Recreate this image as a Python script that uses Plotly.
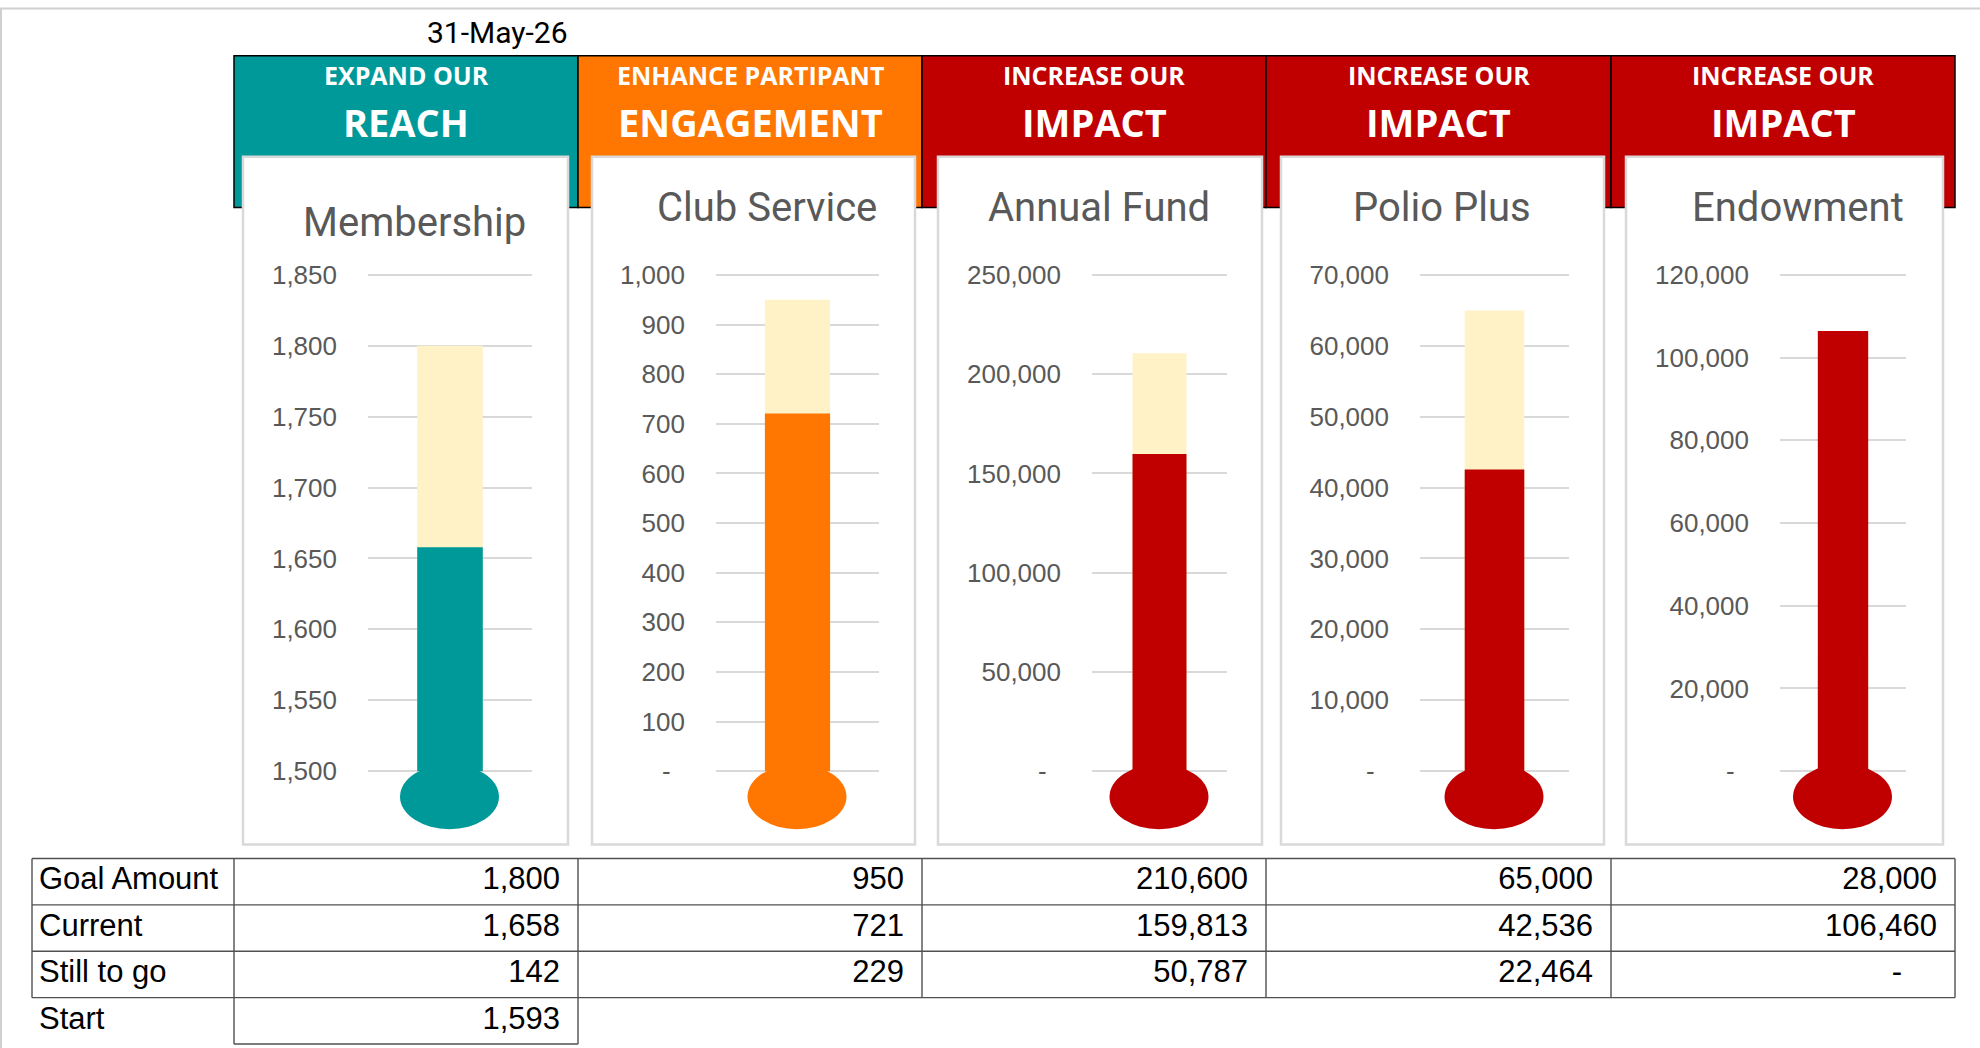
import plotly.graph_objects as go

W, H = 1980, 1048

# ---- values ----
report_date = "31-May-26"
header_small = ["EXPAND OUR", "ENHANCE PARTIPANT", "INCREASE OUR", "INCREASE OUR", "INCREASE OUR"]
header_big = ["REACH", "ENGAGEMENT", "IMPACT", "IMPACT", "IMPACT"]
metrics = ["Membership", "Club Service", "Annual Fund", "Polio Plus", "Endowment"]
goal_amount = [1800, 950, 210600, 65000, 28000]
current = [1658, 721, 159813, 42536, 106460]
still_to_go = [142, 229, 50787, 22464, 0]
start = [1593]
row_labels = ["Goal Amount", "Current", "Still to go", "Start"]
axis_min = [1500, 0, 0, 0, 0]
axis_max = [1850, 1000, 250000, 70000, 120000]
axis_step = [50, 100, 50000, 10000, 20000]

colors = ["#009999", "#FF7600", "#C00000", "#C00000", "#C00000"]
PALE = "#FFF2C6"
GREY_TXT = "#595959"
FONT = "Roboto, Liberation Sans, Arial, sans-serif"
NUMFONT = "Liberation Sans, Arial, sans-serif"
HFONT = "Open Sans, Noto Sans, sans-serif"

# ---- layout geometry (pixels) ----
col_edges = [234, 578, 922, 1266, 1611, 1955]
hdr_top, hdr_bot = 48, 201
cards = [(243, 568), (592, 915), (938, 1262), (1281, 1604), (1626, 1943)]
card_top, card_bot = 150, 843
plot_x = [(368, 532), (716, 879), (1092, 1227), (1420, 1569), (1780, 1906)]
title_pos = [(414, 216), (767, 201), (1099, 201), (1442, 201), (1798, 201)]
tick_top, tick_bot = 269, 769
plot_top, plot_bot = 262, 830
tbl_left, tbl_top, row_h = 32, 857, 46.75


def fx(p):
    return p / W


def fy(p):
    return 1 - p / H


def label(x, y, text, size, color, family=FONT):
    return dict(xref="paper", yref="paper", x=fx(x), y=fy(y), text=text,
                showarrow=False, xanchor="center", yanchor="middle",
                font=dict(family=family, size=size, color=color))


fig = go.Figure()
shapes = []
annotations = []

# header cells and white chart cards
for j in range(5):
    shapes.append(dict(type="rect", xref="paper", yref="paper", layer="below",
                       x0=fx(col_edges[j]), x1=fx(col_edges[j + 1]),
                       y0=fy(hdr_bot), y1=fy(hdr_top),
                       fillcolor=colors[j], line=dict(color="#000000", width=1.5)))
    cx = (col_edges[j] + col_edges[j + 1]) / 2
    annotations.append(label(cx, 68, f"<b>{header_small[j]}</b>", 25, "white", HFONT))
    annotations.append(label(cx, 115, f"<b>{header_big[j]}</b>", 38, "white", HFONT))

for (l, r) in cards:
    shapes.append(dict(type="rect", xref="paper", yref="paper", layer="below",
                       x0=fx(l), x1=fx(r), y0=fy(card_bot), y1=fy(card_top),
                       fillcolor="white", line=dict(color="#D9D9D9", width=2.5)))

# thermometers
layout_axes = {}
for i in range(5):
    n = i + 1
    xname, yname = f"x{n}", f"y{n}"
    lo, hi = axis_min[i], axis_max[i]
    s = (hi - lo) / (tick_bot - tick_top)
    rng = [lo - (plot_bot - tick_bot) * s, hi + (tick_top - plot_top) * s]
    tickvals = list(range(lo, hi + 1, axis_step[i]))
    ticktext = ["-\u00a0\u00a0" if v == 0 else f"{v:,}" for v in tickvals]

    fig.add_trace(go.Bar(x=[0], y=[goal_amount[i] - lo], base=[lo], width=0.4,
                         marker=dict(color=PALE, line=dict(width=0)),
                         customdata=[goal_amount[i]], name="Goal",
                         hovertemplate="Goal: %{customdata:,}<extra></extra>",
                         xaxis=xname, yaxis=yname))
    fig.add_trace(go.Bar(x=[0], y=[current[i] - lo], base=[lo], width=0.4,
                         marker=dict(color=colors[i], line=dict(width=0)),
                         customdata=[current[i]], name="Current",
                         hovertemplate="Current: %{customdata:,}<extra></extra>",
                         xaxis=xname, yaxis=yname))

    # bulb at the foot of the tube
    shapes.append(dict(type="circle", xref=xname, yref=yname, layer="above",
                       xsizemode="pixel", ysizemode="pixel",
                       xanchor=0, yanchor=lo, x0=-50, x1=49, y0=-58, y1=7,
                       fillcolor=colors[i], line=dict(width=0)))

    l, r = plot_x[i]
    key = "" if n == 1 else str(n)
    layout_axes[f"xaxis{key}"] = dict(domain=[fx(l), fx(r)], range=[-0.5, 0.5],
                                      visible=False, anchor=yname, fixedrange=True)
    layout_axes[f"yaxis{key}"] = dict(domain=[fy(plot_bot), fy(plot_top)], range=rng,
                                      anchor=xname, tickvals=tickvals, ticktext=ticktext,
                                      showgrid=True, gridcolor="#D9D9D9", gridwidth=2,
                                      zeroline=False, showline=False, ticks="",
                                      ticklabelstandoff=30, fixedrange=True,
                                      tickfont=dict(family=NUMFONT, size=26, color=GREY_TXT))

    tx, ty = title_pos[i]
    annotations.append(label(tx, ty, metrics[i], 40, GREY_TXT))

annotations.append(label(497, 25, report_date, 30, "#000000"))

# ---- table below the charts (its own axes, x in pixel units, y in rows) ----
tx0, tx1 = tbl_left - 4, col_edges[-1] + 4
ty0, ty1 = tbl_top - 2, tbl_top + 4 * row_h + 2
layout_axes["xaxis6"] = dict(domain=[fx(tx0), fx(tx1)], range=[tx0, tx1],
                             visible=False, anchor="y6", fixedrange=True)
layout_axes["yaxis6"] = dict(domain=[fy(ty1), fy(ty0)],
                             range=[(ty1 - tbl_top) / row_h, (ty0 - tbl_top) / row_h],
                             visible=False, anchor="x6", fixedrange=True)

line_style = dict(color="#505050", width=1.4)
for rr in range(4):
    shapes.append(dict(type="line", xref="x6", yref="y6", x0=tbl_left, x1=col_edges[-1],
                       y0=rr, y1=rr, line=line_style, layer="above"))
shapes.append(dict(type="line", xref="x6", yref="y6", x0=col_edges[0], x1=col_edges[1],
                   y0=4, y1=4, line=line_style, layer="above"))
for xv in [tbl_left] + col_edges:
    bottom = 4 if xv in col_edges[:2] else 3
    shapes.append(dict(type="line", xref="x6", yref="y6", x0=xv, x1=xv,
                       y0=0, y1=bottom, line=line_style, layer="above"))

fig.add_trace(go.Scatter(x=[tbl_left + 7] * 4, y=[0.5, 1.5, 2.5, 3.5], text=row_labels,
                         mode="text", textposition="middle right", hoverinfo="skip",
                         textfont=dict(family=NUMFONT, size=31, color="#000000"),
                         xaxis="x6", yaxis="y6"))

val_x, val_y, val_t = [], [], []
for j in range(5):
    for rr, series in enumerate([goal_amount, current, still_to_go]):
        v = series[j]
        val_x.append(col_edges[j + 1] - 18 - (35 if v == 0 else 0))
        val_y.append(rr + 0.5)
        val_t.append("-" if v == 0 else f"{v:,}")
val_x.append(col_edges[1] - 18)
val_y.append(3.5)
val_t.append(f"{start[0]:,}")
fig.add_trace(go.Scatter(x=val_x, y=val_y, text=val_t, mode="text",
                         textposition="middle left", hoverinfo="skip",
                         textfont=dict(family=NUMFONT, size=31, color="#000000"),
                         xaxis="x6", yaxis="y6"))

# faint frame on the left and top edges
shapes.append(dict(type="line", xref="paper", yref="paper", x0=0.0005, x1=0.0005, y0=0, y1=1,
                   line=dict(color="#D0D0D0", width=2)))
shapes.append(dict(type="line", xref="paper", yref="paper", x0=0, x1=1, y0=0.9995, y1=0.9995,
                   line=dict(color="#D0D0D0", width=2)))

fig.update_layout(
    width=W, height=H,
    margin=dict(l=0, r=0, t=0, b=0),
    paper_bgcolor="white",
    plot_bgcolor="rgba(0,0,0,0)",
    barmode="overlay",
    showlegend=False,
    shapes=shapes,
    annotations=annotations,
    **layout_axes,
)

fig.write_html("out.html", config={"displayModeBar": False},
               post_script="document.body.style.margin='0px';document.body.style.overflow='hidden';")
